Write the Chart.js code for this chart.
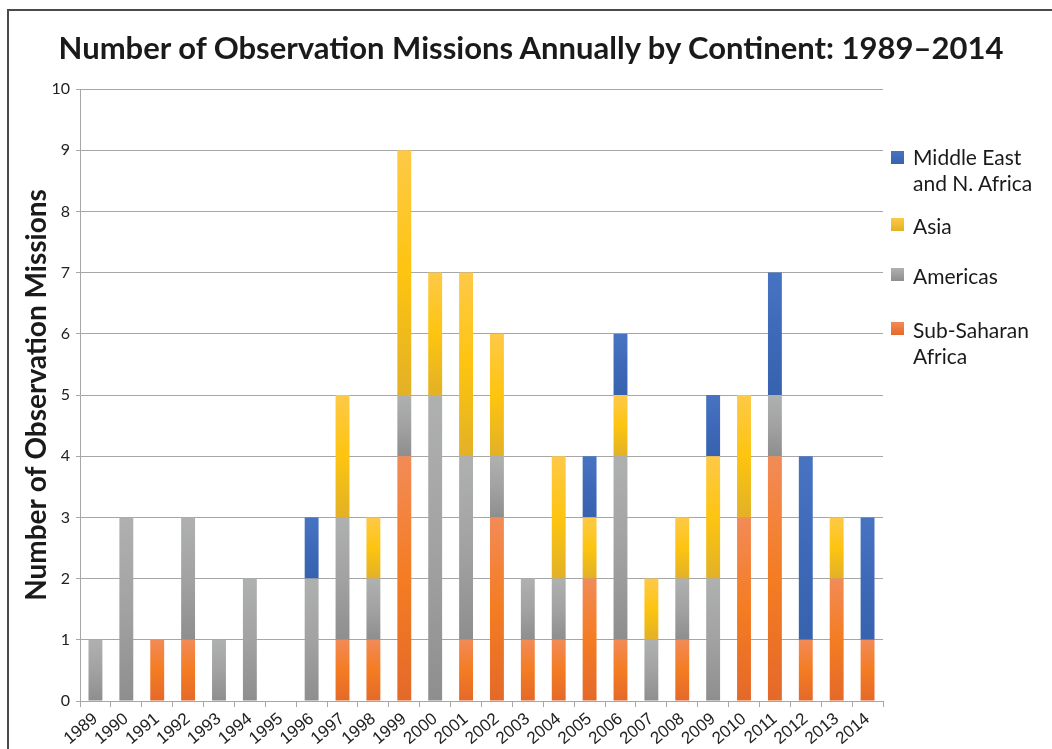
<!DOCTYPE html>
<html>
<head>
<meta charset="utf-8">
<script src="https://cdn.jsdelivr.net/npm/chart.js@4.4.1/dist/chart.umd.min.js"></script>
<style>
  html, body { margin: 0; padding: 0; background: #fff; }
  #wrap { position: relative; width: 1052px; height: 749px; overflow: hidden; }
  #frame { position: absolute; left: 7px; top: 9px; width: 1100px; height: 800px;
           border-left: 2px solid #4a4a4a; border-top: 2px solid #4a4a4a; }
  #chart { position: absolute; left: 0; top: 0; }
  #title { position: absolute; left: 0; top: 29px; width: 1062px; text-align: center;
           font-family: Lato, "Noto Sans", sans-serif; font-weight: bold; font-size: 31px;
           line-height: 36px; color: #1a1a1a; }
  #legend { position: absolute; left: 0; top: 0; font-family: Lato, "Noto Sans", sans-serif;
            font-size: 21px; color: #1a1a1a; }
  .lg-item { position: absolute; left: 891px; white-space: pre-line; line-height: 26px; width: 160px; }
  .lg-box { position: absolute; left: 0; top: 6px; width: 13px; height: 13px; }
  .lg-text { position: absolute; left: 22px; top: 0; }
</style>
</head>
<body>
<div id="wrap">
  <div id="frame"></div>
  <canvas id="chart" width="1052" height="749"></canvas>
  <div id="title">Number of Observation Missions Annually by Continent: 1989–2014</div>
  <div id="legend"></div>
</div>
<script>
// 年份 (x 軸)
const years = ['1989','1990','1991','1992','1993','1994','1995','1996','1997','1998','1999','2000','2001',
               '2002','2003','2004','2005','2006','2007','2008','2009','2010','2011','2012','2013','2014'];

// 各洲每年任務數 (由下而上堆疊)
const subSaharan = [0,0,1,1,0,0,0,0,1,1,4,0,1,3,1,1,2,1,0,1,0,3,4,1,2,1];
const americas   = [1,3,0,2,1,2,0,2,2,1,1,5,3,1,1,1,0,3,1,1,2,0,1,0,0,0];
const asia       = [0,0,0,0,0,0,0,0,2,1,4,2,3,2,0,2,1,1,1,1,2,2,0,0,1,0];
const middleEast = [0,0,0,0,0,0,0,1,0,0,0,0,0,0,0,0,1,1,0,0,1,0,2,3,0,2];

const seriesLabels = ['Sub-Saharan\nAfrica', 'Americas', 'Asia', 'Middle East\nand N. Africa'];
const yTicks = [0,1,2,3,4,5,6,7,8,9,10];

// 漸層色 (上, 中, 下)
const palette = [
    ['#f28b57', '#f47c22', '#e4692a'],
    ['#afb0b0', '#a2a2a2', '#8e8e8e'],
    ['#fec947', '#fdc410', '#e2b126'],
    ['#4774c2', '#3e69b8', '#3662ae']
];

function segGradient(c, stops) {
    const chart = c.chart;
    if (!chart.chartArea || c.type !== 'data') return stops[1];
    const i = c.dataIndex, d = c.datasetIndex;
    let base = 0;
    for (let k = 0; k < d; k++) base += chart.data.datasets[k].data[i];
    const val = chart.data.datasets[d].data[i];
    if (!val) return stops[1];
    const y = chart.scales.y;
    const top = y.getPixelForValue(base + val), bot = y.getPixelForValue(base);
    const g = chart.ctx.createLinearGradient(0, top, 0, bot);
    g.addColorStop(0, stops[0]);
    g.addColorStop(0.5, stops[1]);
    g.addColorStop(1, stops[2]);
    return g;
}

const seriesData = [subSaharan, americas, asia, middleEast];
const datasets = seriesData.map((arr, idx) => ({
    label: seriesLabels[idx],
    data: arr,
    backgroundColor: c => segGradient(c, palette[idx]),
    borderWidth: 0,
    categoryPercentage: 1.0,
    barPercentage: 0.45
}));

const chart = new Chart(document.getElementById('chart').getContext('2d'), {
    type: 'bar',
    data: { labels: years, datasets: datasets },
    options: {
        responsive: false,
        animation: false,
        layout: { padding: { left: 12, right: 169, top: 89, bottom: 0 } },
        plugins: {
            legend: { display: false },
            tooltip: { enabled: false },
            title: { display: false }
        },
        scales: {
            x: {
                stacked: true,
                grid: { display: true, drawOnChartArea: false, drawTicks: true, tickLength: 6,
                        color: '#a6a6a6', offset: true },
                border: { display: true, color: '#a6a6a6', width: 1 },
                ticks: { color: '#222', font: { family: 'Liberation Sans', size: 17 },
                         minRotation: 40, maxRotation: 40, autoSkip: false, padding: 2 },
                afterFit: s => { s.height = 48; }
            },
            y: {
                stacked: true,
                min: 0, max: 10,
                afterBuildTicks: s => { s.ticks = yTicks.map(v => ({ value: v })); },
                grid: { color: '#a6a6a6', lineWidth: 1, tickLength: 4, drawTicks: true },
                border: { display: true, color: '#a6a6a6', width: 1 },
                ticks: { color: '#222', font: { family: 'Lato', size: 16 }, padding: 6 },
                title: {
                    display: true,
                    text: 'Number of Observation Missions',
                    color: '#1a1a1a',
                    font: { family: 'Lato', size: 28, weight: 'bold' },
                    padding: { top: 8, bottom: 0 }
                },
                afterFit: s => { s.width = 68; }
            }
        }
    }
});

// 右側圖例 (順序與堆疊相反)
const legendTops = [144, 213, 263, 317];
const legendEl = document.getElementById('legend');
[3, 2, 1, 0].forEach((idx, n) => {
    const item = document.createElement('div');
    item.className = 'lg-item';
    item.style.top = legendTops[n] + 'px';
    item.innerHTML = `<span class="lg-box" style="top:${n === 0 ? 7 : 5}px;background:linear-gradient(${palette[idx][0]},${palette[idx][2]})"></span>` +
                     `<span class="lg-text"></span>`;
    item.querySelector('.lg-text').innerText = seriesLabels[idx];
    legendEl.appendChild(item);
});
</script>
</body>
</html>
